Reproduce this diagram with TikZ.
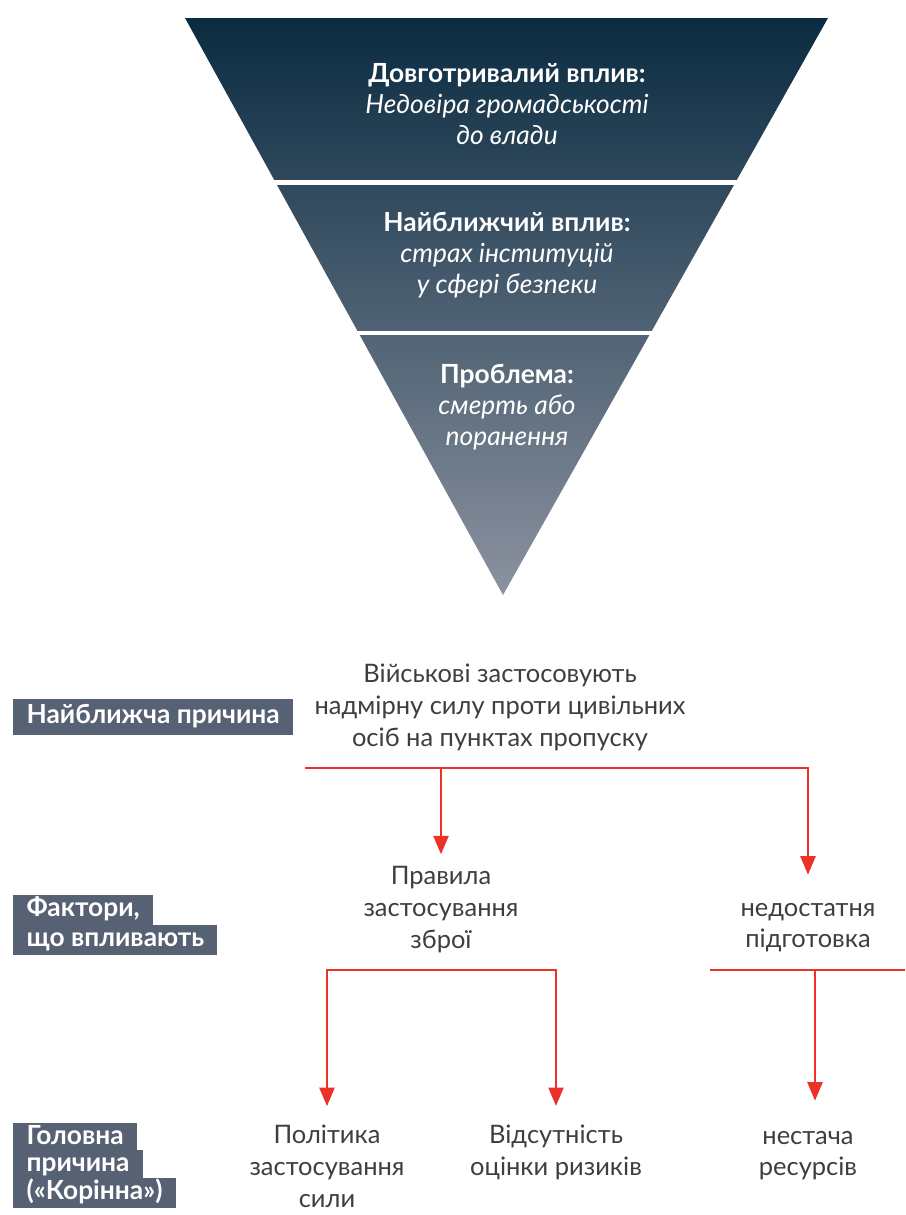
\documentclass[tikz,border=0pt]{standalone}
\usepackage{fontspec}
\setmainfont{Lato}
\usepackage{tikz}
\usetikzlibrary{arrows.meta,positioning}
\definecolor{funneltop}{RGB}{10,43,65}
\definecolor{funnelbot}{RGB}{140,146,160}
\definecolor{tagslate}{RGB}{86,97,115}
\definecolor{causered}{RGB}{234,50,40}
\definecolor{causetext}{RGB}{62,62,62}
\tikzset{
	funneltext/.style={
		text=white,
		align=center,
		font=\fontsize{15}{17.6}\selectfont},
	tag/.style={
		fill=tagslate,
		text=white,
		anchor=west,
		font=\fontsize{15}{17}\selectfont\bfseries,
		inner xsep=7.5pt,
		inner ysep=1.5pt,
		text height=11pt,
		text depth=3.5pt},
	cause/.style={
		text=causetext,
		align=center,
		font=\fontsize{14.5}{18}\selectfont,
		execute at begin node=\strut},
	link/.style={draw=causered, line width=1.4pt},
	arrowlink/.style={link, -{Triangle[width=8.5pt,length=10.5pt]}, shorten >=0.26cm},
}

\begin{document}
\begin{tikzpicture}[x=0.02cm, y=-0.02cm]
\useasboundingbox (0,0) rectangle (906,1215);

\shade[top color=funneltop, bottom color=funnelbot] (185,18) -- (828,18) -- (503,595) -- cycle;
\draw[white, line width=2.8pt] (150,182.5) -- (860,182.5);
\draw[white, line width=2.8pt] (150,333) -- (860,333);

\node[funneltext] (longterm) at (507,104) {\textbf{Довготривалий вплив:}\\ \textit{Недовіра громадськості}\\ \textit{до влади}};
\node[funneltext] (nearimpact) at (507,255) {\textbf{Найближчий вплив:}\\ \textit{страх інституцій}\\ \textit{у сфері безпеки}};
\node[funneltext] (problem) at (507,407) {\textbf{Проблема:}\\ \textit{смерть або}\\ \textit{поранення}};

\node[tag, inner ysep=3pt] (nearcause) at (13,717) {Найближча причина};
\node[tag] (factors1) at (13,910) {Фактори,};
\node[tag] (factors2) at (13,940) {що впливають};
\node[tag] (root1) at (13,1138) {Головна};
\node[tag] (root2) at (13,1165) {причина};
\node[tag] (root3) at (13,1193) {(«Корінна»)};

\node[cause] (military) at (500,710) {Військові застосовують\\ надмірну силу проти цивільних\\ осіб на пунктах пропуску};
\node[cause] (rules) at (441,912) {Правила\\ застосування\\ зброї};
\node[cause] (training) at (808,930) {недостатня\\ підготовка};
\node[cause] (policy) at (327,1171) {Політика\\ застосування\\ сили};
\node[cause] (risk) at (556,1155) {Відсутність\\ оцінки ризиків};
\node[cause] (resources) at (808,1158) {нестача\\ ресурсів};

\coordinate (busA) at (305,768);
\draw[arrowlink, shorten >=0.44cm] (busA) -| (training.north);
\draw[arrowlink, shorten >=0.12cm] (busA -| rules) -- (rules.north);

\coordinate (busB) at (441,970);
\draw[arrowlink] (busB) -| (policy.north);
\draw[arrowlink] (busB) -| (risk.north);

\coordinate (busCl) at (710,970);
\coordinate (busCr) at (905,970);
\coordinate (busCm) at (815,970);
\draw[link] (busCl) -- (busCr);
\draw[arrowlink, shorten >=0.48cm] (busCm) -- (busCm |- resources.north);
\end{tikzpicture}
\end{document}
